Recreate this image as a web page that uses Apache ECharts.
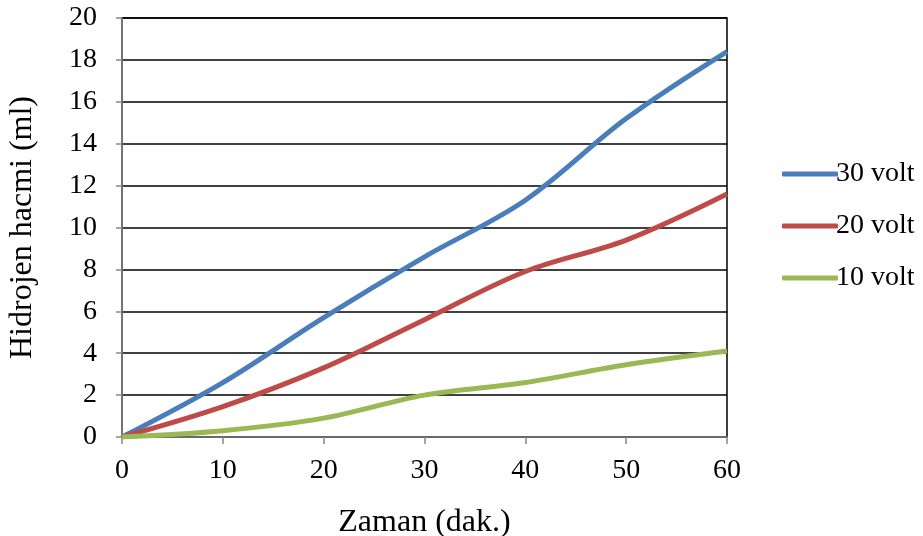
<!DOCTYPE html>
<html>
<head>
<meta charset="utf-8">
<script src="https://cdn.jsdelivr.net/npm/echarts@6/dist/echarts.min.js"></script>
<style>
html, body { margin: 0; padding: 0; background: #fff; }
#main { width: 923px; height: 536px; }
</style>
</head>
<body>
<div id="main"></div>
<script>
// time in minutes
var minutes = [0, 10, 20, 30, 40, 50, 60];
// hydrogen volume (ml)
var volt30 = [0, 2.6, 5.7, 8.6, 11.3, 15.2, 18.4];
var volt20 = [0, 1.45, 3.3, 5.6, 7.9, 9.4, 11.6];
var volt10 = [0, 0.3, 0.9, 2.0, 2.6, 3.45, 4.1];
var seriesNames = ['30 volt', '20 volt', '10 volt'];

function pairs(ys) {
    return minutes.map(function (x, i) { return [x, ys[i]]; });
}

var font = 'Liberation Serif';
var chart = echarts.init(document.getElementById('main'));

function line(name, ys, color) {
    return {
        name: name,
        type: 'line',
        data: pairs(ys),
        smooth: 0.35,
        showSymbol: false,
        lineStyle: { color: color, width: 5 },
        itemStyle: { color: color }
    };
}

chart.setOption({
    animation: false,
    textStyle: { fontFamily: font, color: '#000' },
    grid: {
        left: 122, right: 196, top: 18, bottom: 99,
        outerBoundsMode: 'none',
        containLabel: false,
        show: true, borderColor: '#000', borderWidth: 1.5
    },
    legend: {
        orient: 'vertical',
        left: 777,
        top: 155,
        itemWidth: 56,
        itemHeight: 5,
        itemGap: 24,
        icon: 'roundRect',
        textStyle: { fontFamily: font, fontSize: 28, color: '#000', padding: [0, 0, 0, -7] },
        data: seriesNames
    },
    xAxis: {
        type: 'value',
        min: 0, max: 60, interval: 10,
        name: 'Zaman (dak.)',
        nameLocation: 'middle',
        nameGap: 70,
        nameTextStyle: { fontFamily: font, fontSize: 32, color: '#000' },
        axisLine: { lineStyle: { color: '#868686', width: 1.5 } },
        axisTick: { show: true, length: 7, lineStyle: { color: '#868686', width: 1.5 } },
        axisLabel: { fontFamily: font, fontSize: 28, color: '#000', margin: 20 },
        splitLine: { show: false }
    },
    yAxis: {
        type: 'value',
        min: 0, max: 20, interval: 2,
        name: 'Hidrojen hacmi (ml)',
        nameLocation: 'middle',
        nameGap: 83,
        nameTextStyle: { fontFamily: font, fontSize: 32, color: '#000' },
        axisLine: { show: true, lineStyle: { color: '#868686', width: 1.5 } },
        axisTick: { show: true, length: 6, lineStyle: { color: '#868686', width: 1.5 } },
        axisLabel: { fontFamily: font, fontSize: 28, color: '#000', margin: 25 },
        splitLine: { show: true, lineStyle: { color: '#000', width: 1.5 } }
    },
    series: [
        line(seriesNames[0], volt30, '#4a7ebb'),
        line(seriesNames[1], volt20, '#be4b48'),
        line(seriesNames[2], volt10, '#98b954')
    ]
});
</script>
</body>
</html>
